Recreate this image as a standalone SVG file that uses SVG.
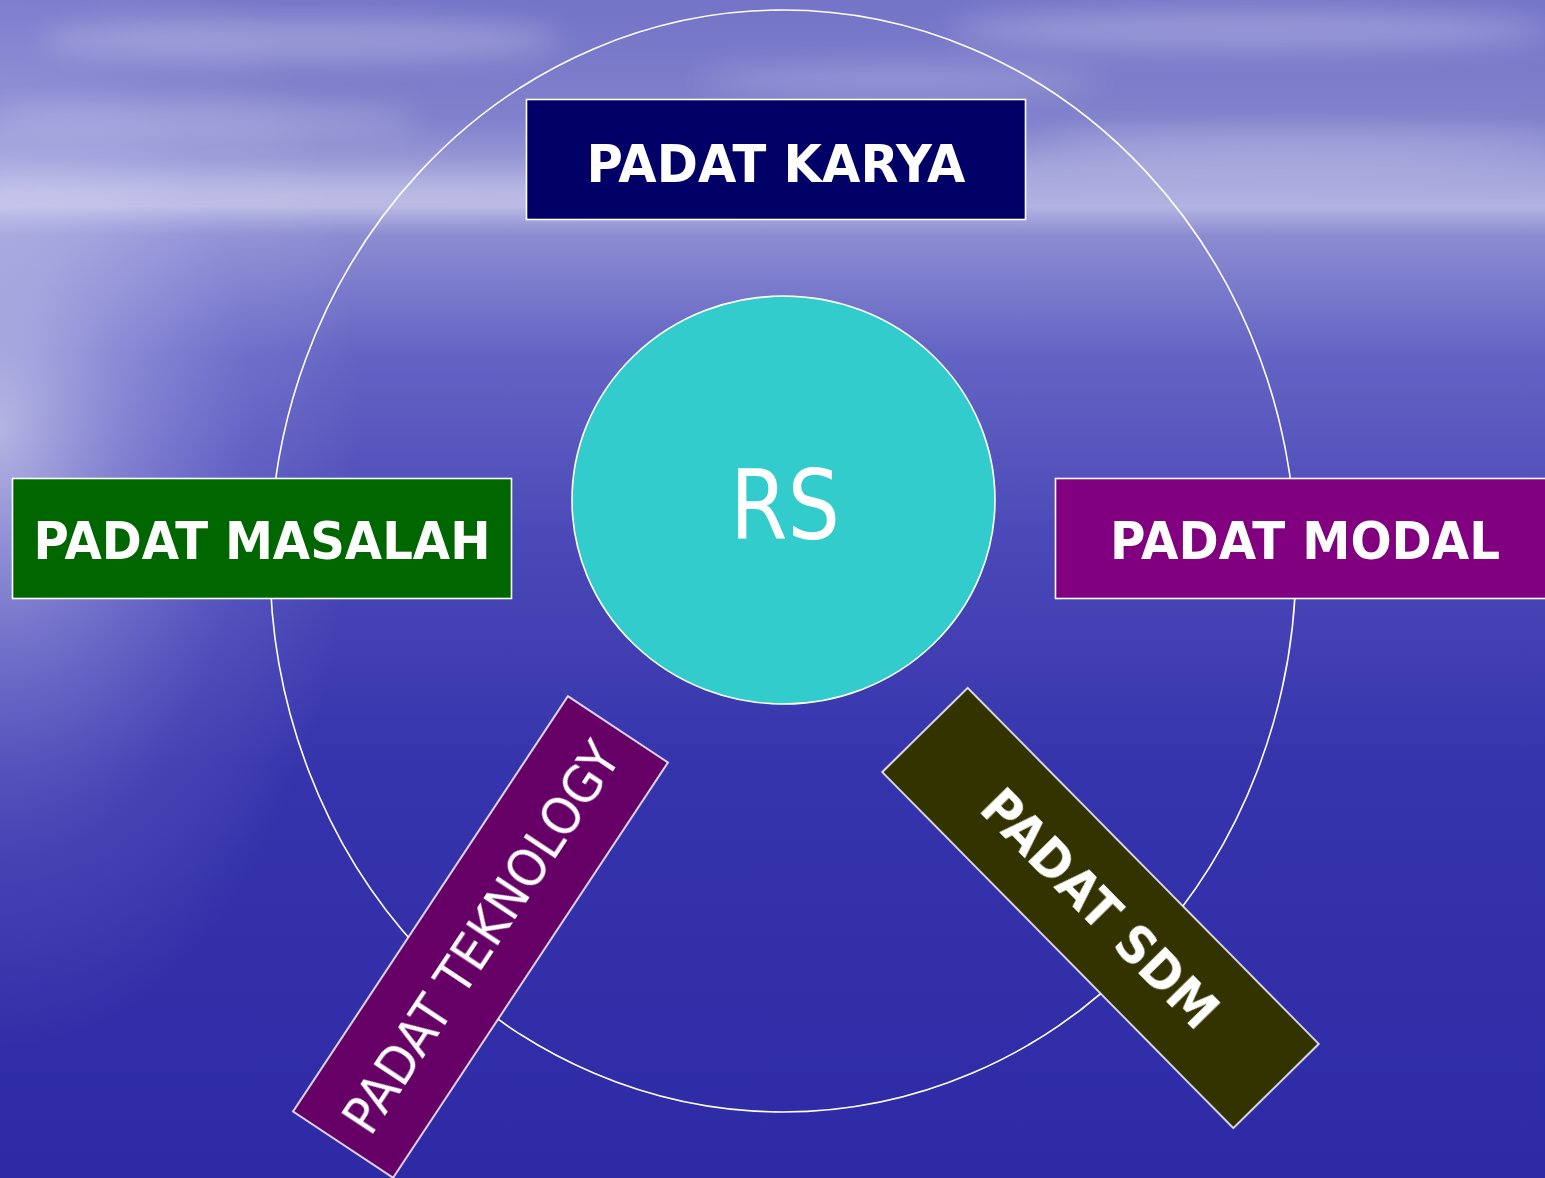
<svg xmlns="http://www.w3.org/2000/svg" width="1545" height="1178" viewBox="0 0 1545 1178">
  <defs>
    <linearGradient id="bgV" x1="0" y1="0" x2="0" y2="1">
      <stop offset="0" stop-color="#7474c8"/>
      <stop offset="0.1" stop-color="#8080cc"/>
      <stop offset="0.155" stop-color="#a4a4dc"/>
      <stop offset="0.175" stop-color="#b4b4e2"/>
      <stop offset="0.2" stop-color="#8c8cd2"/>
      <stop offset="0.3" stop-color="#6464c4"/>
      <stop offset="0.45" stop-color="#4c4ab8"/>
      <stop offset="0.65" stop-color="#3634ac"/>
      <stop offset="1" stop-color="#2e2aa6"/>
    </linearGradient>
    <radialGradient id="glow" cx="0.5" cy="0.5" r="0.5">
      <stop offset="0" stop-color="#ffffff" stop-opacity="0.55"/>
      <stop offset="0.35" stop-color="#e4e4ff" stop-opacity="0.3"/>
      <stop offset="0.7" stop-color="#d0d0ff" stop-opacity="0.1"/>
      <stop offset="1" stop-color="#ffffff" stop-opacity="0"/>
    </radialGradient>
    <filter id="blur" x="-20%" y="-50%" width="140%" height="200%">
      <feGaussianBlur stdDeviation="14"/>
    </filter>
    <style>
      .ring { fill: none; stroke: #ffffff; stroke-width: 1.6; }
      .box { stroke: #ffffff; stroke-width: 1.6; }
      .lbl { fill: #ffffff; font-family: "DejaVu Sans", Verdana, sans-serif; text-anchor: middle; }
      .b { font-weight: bold; font-size: 52px; }
      .r { font-weight: normal; }
    </style>
  </defs>

  <g id="background">
    <rect x="0" y="0" width="1545" height="1178" fill="url(#bgV)"/>
    <ellipse cx="0" cy="430" rx="360" ry="620" fill="url(#glow)"/>
    <g filter="url(#blur)" fill="#ffffff">
      <ellipse cx="300" cy="40" rx="260" ry="22" opacity="0.25"/>
      <ellipse cx="1250" cy="30" rx="300" ry="20" opacity="0.25"/>
      <ellipse cx="900" cy="80" rx="200" ry="15" opacity="0.2"/>
      <ellipse cx="200" cy="120" rx="220" ry="18" opacity="0.22"/>
      <ellipse cx="1300" cy="140" rx="260" ry="14" opacity="0.18"/>
      <ellipse cx="400" cy="190" rx="500" ry="10" opacity="0.3"/>
      <ellipse cx="1200" cy="170" rx="400" ry="10" opacity="0.2"/>
    </g>
  </g>

  <g id="outer-ring">
    <ellipse class="ring" cx="783" cy="561" rx="513" ry="551"/>
  </g>

  <g id="connectors"></g>

  <g id="node-rs">
    <ellipse cx="783.5" cy="500" rx="211.5" ry="204" fill="#33cccc" stroke="#ffffff" stroke-width="1.6"/>
    <text class="lbl r" x="785" y="539" font-size="96" textLength="110" lengthAdjust="spacingAndGlyphs">RS</text>
  </g>

  <g id="node-padat-karya">
    <rect class="box" x="526.5" y="99.5" width="499" height="120" fill="#000066"/>
    <text class="lbl b" x="776" y="182" textLength="379" lengthAdjust="spacingAndGlyphs">PADAT KARYA</text>
  </g>

  <g id="node-padat-masalah">
    <rect class="box" x="12.5" y="478.5" width="499" height="120" fill="#006600"/>
    <text class="lbl b" x="262" y="559" textLength="457" lengthAdjust="spacingAndGlyphs">PADAT MASALAH</text>
  </g>

  <g id="node-padat-modal">
    <rect class="box" x="1055.5" y="478.5" width="499" height="120" fill="#800080"/>
    <text class="lbl b" x="1305" y="559" textLength="390" lengthAdjust="spacingAndGlyphs">PADAT MODAL</text>
  </g>

  <g id="node-padat-teknology" transform="translate(480.5,937) rotate(-56.5)">
    <rect class="box" x="-249" y="-60" width="498" height="120" fill="#660066"/>
    <text class="lbl r" x="0" y="19" font-size="52" textLength="456" lengthAdjust="spacingAndGlyphs">PADAT TEKNOLOGY</text>
  </g>

  <g id="node-padat-sdm" transform="translate(1100.5,908) rotate(45.4)">
    <rect class="box" x="-250" y="-60" width="500" height="120" fill="#333300"/>
    <text class="lbl b" x="0" y="19" textLength="312" lengthAdjust="spacingAndGlyphs">PADAT SDM</text>
  </g>
</svg>
